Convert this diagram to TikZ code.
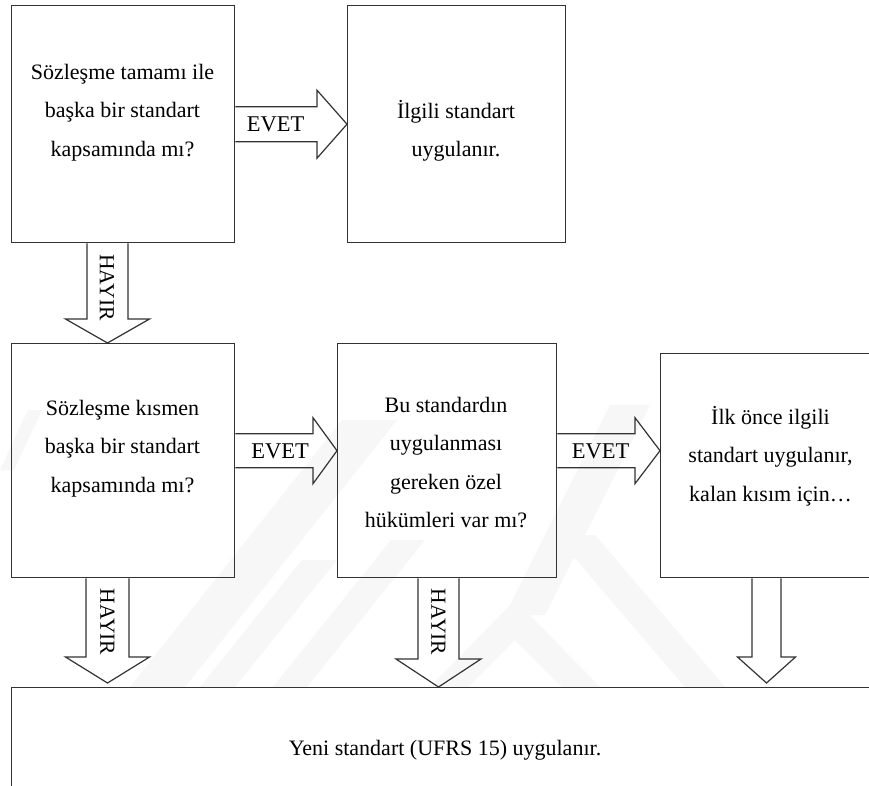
\documentclass[tikz,border=0pt]{standalone}
\usepackage{fontspec}
\setmainfont{Liberation Serif}
\usetikzlibrary{calc}

\tikzset{
  box/.style={draw=black!80, line width=1.4pt, inner sep=0pt},
  blk/.style={draw=black!80, line width=1.2pt, line join=miter},
  txt/.style={align=center, inner sep=0pt, font=\fontsize{22}{38.5}\selectfont},
  lbl/.style={inner sep=0pt, font=\fontsize{22.5}{24}\selectfont},
  vlbl/.style={inner sep=0pt, rotate=-90, font=\fontsize{21.5}{24}\selectfont},
  wm/.style={fill=black!3, draw=none},
}

% block arrow pointing right: #1 start, #2 tip, #3 shaft half width, #4 head half width, #5 head length
\newcommand\rblock[5]{%
  \draw[blk] let \p1=(#1), \p2=(#2) in
    (\x1,\y2+#3) -- (\x2-#5,\y2+#3) -- (\x2-#5,\y2+#4) -- (\x2,\y2)
    -- (\x2-#5,\y2-#4) -- (\x2-#5,\y2-#3) -- (\x1,\y2-#3);}
% block arrow pointing down, same arguments
\newcommand\dblock[5]{%
  \draw[blk] let \p1=(#1), \p2=(#2) in
    (\x2-#3,\y1) -- (\x2-#3,\y2+#5) -- (\x2-#4,\y2+#5) -- (\x2,\y2)
    -- (\x2+#4,\y2+#5) -- (\x2+#3,\y2+#5) -- (\x2+#3,\y1);}

\begin{document}
\begin{tikzpicture}[x=1pt,y=-1pt]
\path[use as bounding box, clip] (0,0) rectangle (869,785);
\fill[white] (0,0) rectangle (869,785);

% faint background emblem
\fill[wm] (130,687) -- (185,687) -- (397,420) -- (342,420) -- cycle;
\fill[wm] (200,687) -- (235,687) -- (337,560) -- (302,560) -- cycle;
\fill[wm] (273,687) -- (307,687) -- (425,540) -- (391,540) -- cycle;
\fill[wm] (430,687) -- (515,600) -- (600,687) -- (562,687) -- (515,640) -- (468,687) -- cycle;
\fill[wm] (505,615) -- (545,615) -- (650,405) -- (610,405) -- cycle;
\fill[wm] (555,535) -- (595,535) -- (725,687) -- (685,687) -- cycle;
\fill[wm] (0,470) -- (14,470) -- (42,410) -- (28,410) -- cycle;

% boxes
\node[box, anchor=north west, minimum width=223, minimum height=237] (b1) at (11,5) {};
\node[box, anchor=north west, minimum width=218, minimum height=237] (b2) at (347,5) {};
\node[box, anchor=north west, minimum width=223, minimum height=234] (b3) at (11,343) {};
\node[box, anchor=north west, minimum width=219, minimum height=234] (b4) at (337,343) {};
\node[box, anchor=north west, minimum width=240, minimum height=224] (b5) at (660,353) {};
\node[box, anchor=north west, minimum width=900, minimum height=150] (bot) at (11,687) {};

% box texts
\node[txt] (t1) at (122.5,112.5) {Sözleşme tamamı ile\\başka bir standart\\kapsamında mı?};
\node[txt] (t2) at (456,131) {İlgili standart\\uygulanır.};
\node[txt] (t3) at (122.5,448.5) {Sözleşme kısmen\\başka bir standart\\kapsamında mı?};
\node[txt] (t4) at (446,462.5) {Bu standardın\\uygulanması\\gereken özel\\hükümleri var mı?};
\node[txt] (t5) at (770.5,456) {İlk önce ilgili\\standart uygulanır,\\kalan kısım için…};
\node[txt] (t6) at (445,750) {Yeni standart (UFRS 15) uygulanır.};

% arrow anchors on the box edges
\coordinate (h1) at ($(b1.south west)+(96.5,0)$);
\coordinate (h2) at ($(b3.south west)+(96.5,0)$);
\coordinate (h3) at ($(b4.south west)+(101.5,0)$);
\coordinate (h4) at ($(b5.south west)+(106.5,0)$);
\coordinate (e2) at ($(b3.east)+(0,-10)$);
\coordinate (e3) at (e2 -| b4.east);

% yes arrows
\rblock{b1.east}{b2.west}{17.5pt}{34pt}{30pt}
\rblock{e2}{e2 -| b4.west}{17pt}{33pt}{24pt}
\rblock{e3}{e3 -| b5.west}{17pt}{33pt}{25pt}

% no arrows
\dblock{h1}{h1 |- b3.north}{20.5pt}{42pt}{24pt}
\dblock{h2}{$(h2 |- bot.north)+(0,-4)$}{21.5pt}{42pt}{26pt}
\dblock{h3}{h3 |- bot.north}{20.5pt}{42.5pt}{28pt}
\dblock{h4}{$(h4 |- bot.north)+(0,-4)$}{14.5pt}{29pt}{26pt}

% arrow labels
\node[lbl] (y1) at (275.5,124) {EVET};
\node[lbl] (y2) at (280,451) {EVET};
\node[lbl] (y3) at (600.5,451) {EVET};
\node[vlbl] (n1) at (107,287.5) {HAYIR};
\node[vlbl] (n2) at (107.5,622) {HAYIR};
\node[vlbl] (n3) at (438.5,622) {HAYIR};
\end{tikzpicture}
\end{document}
